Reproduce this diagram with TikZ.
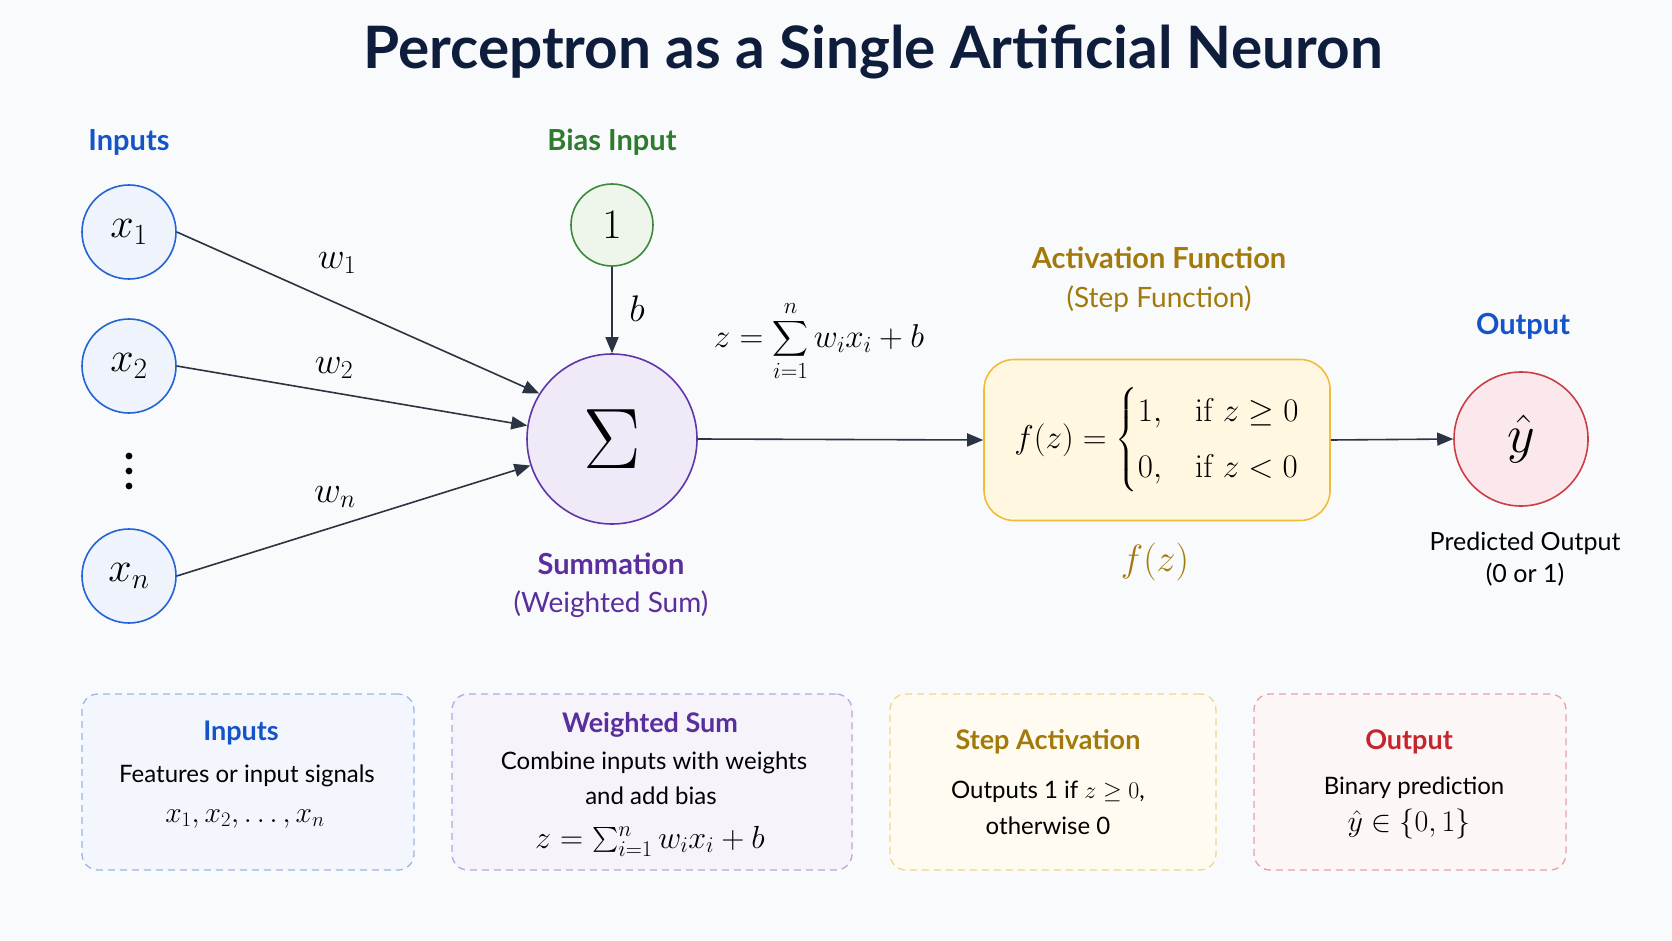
\RequirePackage{fix-cm}
\documentclass[tikz,border=0pt]{standalone}
\usepackage{amsmath}
\usepackage[no-math]{fontspec}
\setmainfont{Lato}
\usetikzlibrary{arrows.meta}
\definecolor{bgc}{HTML}{F9FAFC}
\definecolor{navy}{HTML}{0F1D3D}
\definecolor{blueT}{HTML}{1454C8}
\definecolor{blueB}{HTML}{2463D3}
\definecolor{blueF}{HTML}{EEF3FC}
\definecolor{greenT}{HTML}{2E7A2E}
\definecolor{greenB}{HTML}{3B8A3B}
\definecolor{greenF}{HTML}{EEF6EC}
\definecolor{purpT}{HTML}{5A2E9C}
\definecolor{purpB}{HTML}{5E36A8}
\definecolor{purpF}{HTML}{EFE9F8}
\definecolor{goldT}{HTML}{A27A0C}
\definecolor{goldB}{HTML}{F2BC3A}
\definecolor{goldF}{HTML}{FFF7E0}
\definecolor{redT}{HTML}{C4262E}
\definecolor{redB}{HTML}{CC3D45}
\definecolor{redF}{HTML}{FBE8EC}
\definecolor{arrowc}{HTML}{2B3442}
\definecolor{card1B}{HTML}{9CB6E6}
\definecolor{card1F}{HTML}{F3F6FC}
\definecolor{card2B}{HTML}{B8A6DE}
\definecolor{card2F}{HTML}{F6F3FB}
\definecolor{card3B}{HTML}{F0D58C}
\definecolor{card3F}{HTML}{FFFBF1}
\definecolor{card4B}{HTML}{E6A1A8}
\definecolor{card4F}{HTML}{FDF6F7}
\tikzset{
  neuron/.style={circle, line width=1.6pt, inner sep=0pt, font=\fontsize{42}{46}\selectfont},
  arr/.style={-{Triangle[length=16pt,width=13pt]}, line width=1.6pt, draw=arrowc},
  head/.style={font=\fontsize{29}{34}\selectfont\bfseries},
  sub/.style={font=\fontsize{28}{32}\selectfont},
  wlab/.style={font=\fontsize{37}{40}\selectfont},
  card/.style={dashed, dash pattern=on 7pt off 5pt, rounded corners=16pt, line width=1.3pt, minimum width=#1, minimum height=176, inner sep=0pt},
  ctitle/.style={font=\fontsize{27}{32}\selectfont\bfseries},
  ctext/.style={font=\fontsize{24}{29}\selectfont, text=black},
  cmath/.style={font=\fontsize{30}{34}\selectfont, text=black}
}
\begin{document}
\begin{tikzpicture}[x=1pt,y=-1pt]
\useasboundingbox[fill=bgc] (0,0) rectangle (1672,941);
% title
\node[text=navy, font=\fontsize{58.5}{64}\selectfont\bfseries] (title) at (873,52) {Perceptron as a Single Artificial Neuron};
% inputs
\node[head, text=blueT] (inlab) at (129,142) {Inputs};
\node[neuron, draw=blueB, fill=blueF, minimum size=94] (x1) at (129,232) {$x_1$};
\node[neuron, draw=blueB, fill=blueF, minimum size=94] (x2) at (129,366) {$x_2$};
\node[neuron, draw=blueB, fill=blueF, minimum size=94] (xn) at (129,576) {$x_n$};
\fill[black] (129,456) circle (3.4) (129,471) circle (3.4) (129,486) circle (3.4);
% bias
\node[head, text=greenT] (biaslab) at (612,142) {Bias Input};
\node[neuron, draw=greenB, fill=greenF, minimum size=82] (bias) at (612,225) {$1$};
% sum
\node[neuron, draw=purpB, fill=purpF, minimum size=170, font=\fontsize{86}{90}\selectfont] (sum) at (612,439) {$\Sigma$};
\node[head, text=purpT] (sumlab) at (611,564) {Summation};
\node[sub, text=purpT] (sumsub) at (611,604) {(Weighted Sum)};
% connectors into sum
\draw[arr] (x1.east) -- (sum.148.6);
\draw[arr] (x2.east) -- (sum.171.5);
\draw[arr] (xn.east) -- (sum.-162);
\draw[arr] (bias.south) -- (sum.north);
\node[wlab] (w1) at (337,263) {$w_1$};
\node[wlab] (w2) at (334,368) {$w_2$};
\node[wlab] (wn) at (335,497) {$w_n$};
\node[wlab] (blab) at (637,309) {$b$};
% formula
\node[font=\fontsize{33}{38}\selectfont] (zform) at (819,341) {$\displaystyle z=\sum_{i=1}^{n} w_i x_i + b$};
% activation
\node[head, text=goldT] (actlab) at (1159,258) {Activation Function};
\node[sub, text=goldT] (actsub) at (1159,299) {(Step Function)};
\node[draw=goldB, fill=goldF, line width=1.6pt, rounded corners=30pt, minimum width=346, minimum height=161, font=\fontsize{33}{40}\selectfont] (act) at (1157,440)
  {$f(z)=\begin{cases}1, & \mathrm{if}\ z\geq 0\\[8pt] 0, & \mathrm{if}\ z<0\end{cases}$};
\node[text=goldT, font=\fontsize{38}{42}\selectfont] (flab) at (1155,562) {$f(z)$};
\draw[arr] (sum.east) -- (act.west);
% output
\node[head, text=blueT] (outlab) at (1523,326) {Output};
\node[neuron, draw=redB, fill=redF, minimum size=134, font=\fontsize{54}{58}\selectfont] (out) at (1521,439) {$\hat{y}$};
\node[font=\fontsize{25}{30}\selectfont, align=center] (predlab) at (1525,559) {Predicted Output\\[2pt](0 or 1)};
\draw[arr] (act.east) -- (out.west);
% bottom cards
\node[card=332, draw=card1B, fill=card1F] (c1) at (248,782) {};
\node[card=400, draw=card2B, fill=card2F] (c2) at (652,782) {};
\node[card=326, draw=card3B, fill=card3F] (c3) at (1053,782) {};
\node[card=312, draw=card4B, fill=card4F] (c4) at (1410,782) {};
\node[ctitle, text=blueT] (c1t) at (241,733) {Inputs};
\node[ctext] (c1a) at (247,776) {Features or input signals};
\node[cmath, font=\fontsize{29.5}{34}\selectfont] (c1b) at (245,819) {$x_1, x_2, \ldots, x_n$};
\node[ctitle, text=purpT] (c2t) at (650,725) {Weighted Sum};
\node[ctext] (c2a) at (654,763) {Combine inputs with weights};
\node[ctext] (c2b) at (651,796) {and add bias};
\node[cmath, font=\fontsize{32}{36}\selectfont] (c2c) at (650,841) {$z=\sum_{i=1}^{n} w_i x_i + b$};
\node[ctitle, text=goldT] (c3t) at (1048,742) {Step Activation};
\node[ctext] (c3a) at (1048,792) {Outputs 1 if $z\geq 0$,};
\node[ctext] (c3b) at (1048,826) {otherwise 0};
\node[ctitle, text=redT] (c4t) at (1409,742) {Output};
\node[ctext] (c4a) at (1414,788) {Binary prediction};
\node[cmath] (c4b) at (1409,824) {$\hat{y}\in\{0,1\}$};
\end{tikzpicture}
\end{document}
